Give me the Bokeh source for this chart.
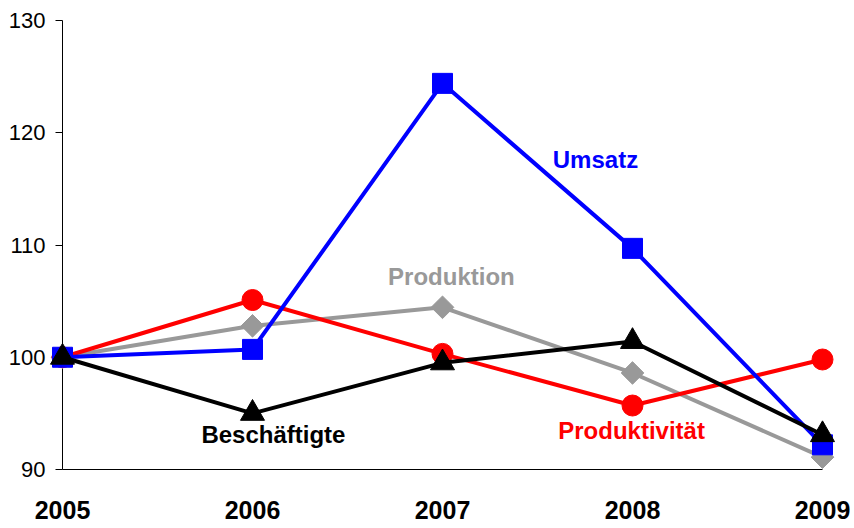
import math
from bokeh.plotting import figure
from bokeh.models import Range1d, FixedTicker, ColumnDataSource
from bokeh.core.properties import value
from bokeh.embed import file_html
from bokeh.resources import INLINE

years = [2005, 2006, 2007, 2008, 2009]
umsatz = [100.0, 100.7, 124.4, 109.7, 92.2]
produktion = [100.0, 102.8, 104.45, 98.6, 91.1]
produktivitaet = [100.0, 105.1, 100.3, 95.7, 99.8]
beschaeftigte = [100.0, 95.0, 99.5, 101.4, 93.1]

y_ticks = [90, 100, 110, 120, 130]

label_texts = ["Umsatz", "Produktion", "Beschäftigte", "Produktivität"]
label_x = [2007.805, 2007.047, 2006.11, 2007.995]
label_y = [117.6, 107.2, 93.1, 93.5]
label_colors = ["#0000FF", "#999999", "#000000", "#FF0000"]

FONT = "Liberation Sans"

p = figure(width=850, height=528, output_backend="svg", toolbar_location=None,
           x_range=Range1d(years[0], years[-1]),
           y_range=Range1d(90, 130),
           min_border_left=62, min_border_right=28, min_border_top=20,
           min_border_bottom=59)
p.outline_line_color = None
p.grid.visible = False
p.background_fill_color = "white"
p.border_fill_color = "white"

# x axis
xa = p.xaxis[0]
xa.ticker = FixedTicker(ticks=years)
xa.major_tick_out = 0
xa.major_tick_in = 0
xa.minor_tick_out = 0
xa.minor_tick_in = 0
xa.axis_line_color = "black"
xa.axis_line_width = 1
xa.major_label_text_font = FONT
xa.major_label_text_font_size = "25px"
xa.major_label_text_font_style = "bold"
xa.major_label_text_color = "black"
xa.major_label_standoff = 31

# y axis
ya = p.yaxis[0]
ya.ticker = FixedTicker(ticks=y_ticks)
ya.major_tick_out = 7
ya.major_tick_in = 0
ya.minor_tick_out = 0
ya.minor_tick_in = 0
ya.axis_line_color = "black"
ya.major_tick_line_color = "black"
ya.major_label_text_font = FONT
ya.major_label_text_font_size = "22px"
ya.major_label_text_color = "black"
ya.major_label_standoff = 10

lw = 4
# Produktion (gray diamonds)
p.line(years, produktion, line_color="#999999", line_width=lw, level="overlay")
p.scatter(years, produktion, marker="square", angle=math.pi / 4, size=16,
          fill_color="#999999", line_color="#999999", level="overlay")
# Produktivität (red circles)
p.line(years, produktivitaet, line_color="#FF0000", line_width=lw, level="overlay")
p.scatter(years, produktivitaet, marker="circle", size=21,
          fill_color="#FF0000", line_color="#FF0000", level="overlay")
# Umsatz (blue squares)
p.line(years, umsatz, line_color="#0000FF", line_width=lw, level="overlay")
p.scatter(years, umsatz, marker="square", size=20,
          fill_color="#0000FF", line_color="#0000FF", level="overlay")
# Beschäftigte (black triangles)
p.line(years, beschaeftigte, line_color="#000000", line_width=lw, level="overlay")
p.scatter(years, beschaeftigte, marker="triangle", size=24,
          fill_color="#000000", line_color="#000000", level="overlay")

src = ColumnDataSource(dict(x=label_x, y=label_y, t=label_texts, c=label_colors))
p.text(x="x", y="y", text="t", text_color="c", source=src,
       text_font=value(FONT), text_font_size="24px", text_font_style="bold",
       text_align="center", text_baseline="middle", level="overlay")

open("out.html", "w").write(file_html(p, INLINE))
